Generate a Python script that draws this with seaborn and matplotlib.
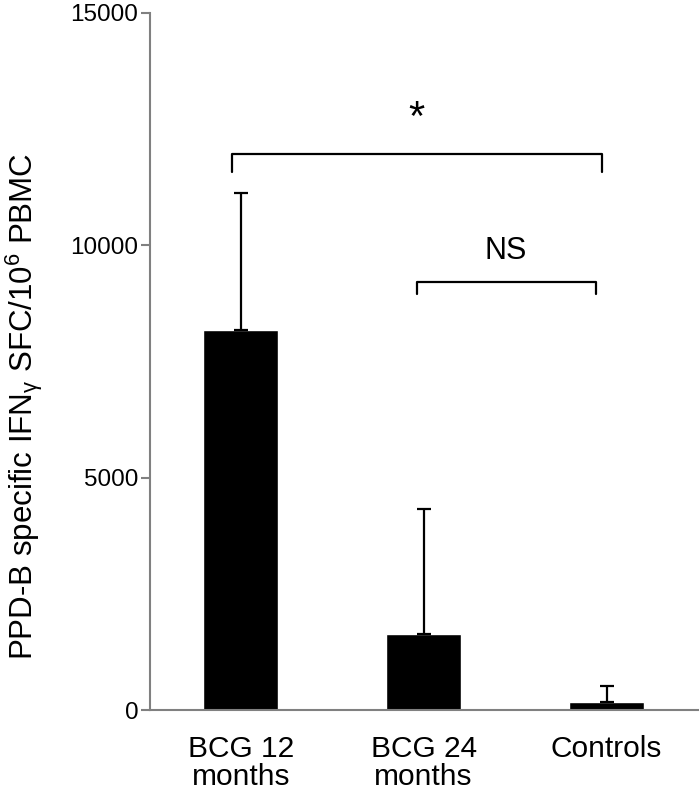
import matplotlib
matplotlib.use("Agg")
import matplotlib.pyplot as plt
import seaborn as sns
import pandas as pd

# values
groups = ["BCG 12\nmonths", "BCG 24\nmonths", "Controls"]
means = [8170, 1630, 180]
err_up = [2960, 2700, 345]

# significance brackets: (x_left, x_right, y_bar, y_tip, label, label_x, label_y, size)
brackets = [
    (-0.048, 1.973, 11950, 11580, "*", 0.958, 12480, 30),
    (0.961, 1.945, 9200, 8950, "NS", 1.45, 9700, 22),
]

df = pd.DataFrame({"group": groups, "value": means})

sns.set_style("white")
plt.rcParams["font.family"] = ["Liberation Sans", "DejaVu Sans"]
plt.rcParams["mathtext.fontset"] = "custom"
plt.rcParams["mathtext.rm"] = "Liberation Sans"
plt.rcParams["text.color"] = "black"
plt.rcParams["axes.labelcolor"] = "black"
plt.rcParams["xtick.labelcolor"] = "black"
plt.rcParams["ytick.labelcolor"] = "black"

fig = plt.figure(figsize=(7, 7.95), dpi=100)
ax = fig.add_axes([0.2136, 0.1069, 0.7834, 0.8772])

sns.barplot(data=df, x="group", y="value", color="black", width=0.41,
            errorbar=None, saturation=1, ax=ax)
ax.errorbar(range(len(groups)), means, yerr=[[0] * len(means), err_up],
            fmt="none", ecolor="black", elinewidth=1.6, capsize=4.7,
            capthick=1.6)

for x0, x1, yb, yt, lab, lx, ly, fs in brackets:
    ax.plot([x0, x0, x1, x1], [yt, yb, yb, yt], color="black", lw=1.6,
            solid_joinstyle="round", clip_on=False)
    ax.text(lx, ly, lab, ha="center", va="baseline", fontsize=fs, color="black")

ax.set_xlim(-0.5, 2.5)
ax.set_ylim(0, 15000)
ax.set_yticks([0, 5000, 10000, 15000])
ax.set_xlabel("")
ax.set_ylabel("PPD-B specific IFN$_{\\mathregular{γ}}$ SFC/10$^{\\mathregular{6}}$ PBMC",
              fontsize=22.5, color="black")
ax.yaxis.set_label_coords(-0.19, 0.436)

for s in ["top", "right"]:
    ax.spines[s].set_visible(False)
for s in ["left", "bottom"]:
    ax.spines[s].set_color("#808080")
    ax.spines[s].set_linewidth(1.5)

ax.tick_params(axis="y", direction="out", length=6.5, width=1.5,
               color="#808080", labelsize=17.5, pad=1.5, left=True,
               labelcolor="black")
ax.tick_params(axis="x", length=0, labelsize=21.5, pad=18, labelcolor="black")
for t in ax.get_xticklabels():
    t.set_linespacing(1.0)

plt.savefig("out.png", dpi=100)
